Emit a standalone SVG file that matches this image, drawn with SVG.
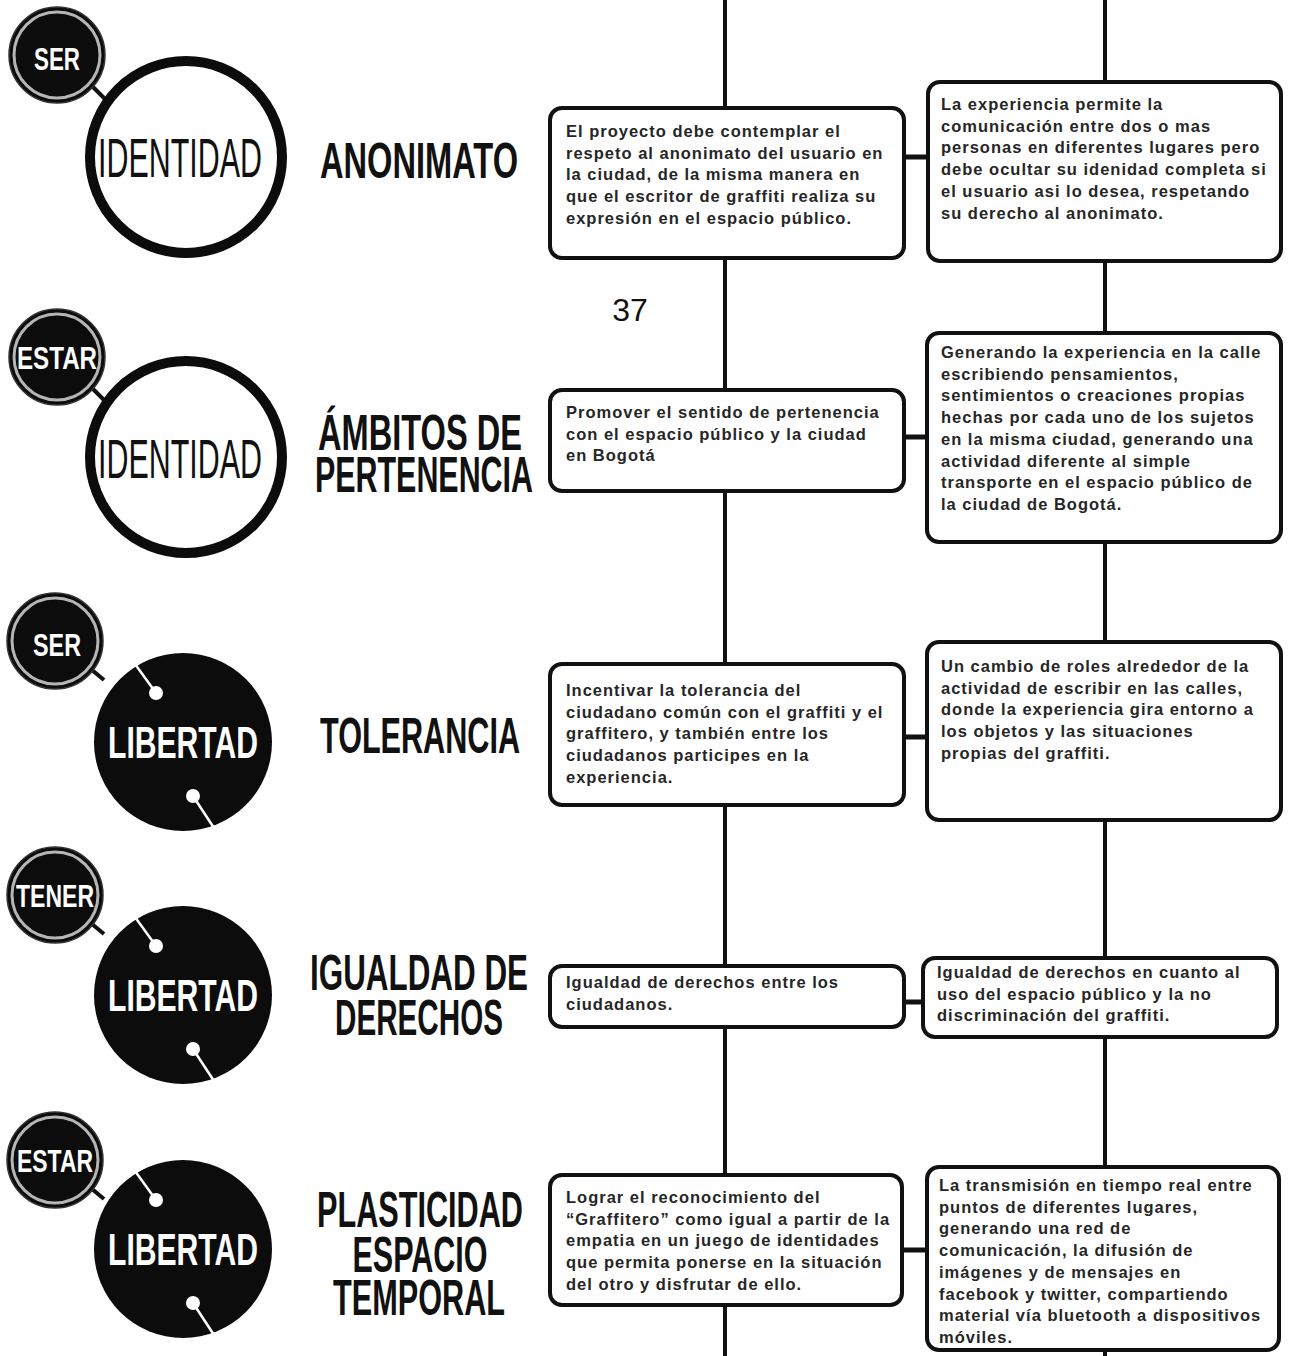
<svg xmlns="http://www.w3.org/2000/svg" width="1290" height="1356" viewBox="0 0 1290 1356">
  <style>
    .box { fill: #fff; stroke: #111; stroke-width: 4; }
    .bt { font-family: "Liberation Sans", Arial, sans-serif; font-weight: bold; font-size: 16.5px; letter-spacing: 1px; fill: #262626; }
    .lbl { font-family: "Liberation Sans", Arial, sans-serif; font-weight: bold; font-size: 50px; fill: #111; text-anchor: middle; }
    .badge { fill: #0c0c0c; stroke: #333; stroke-width: 1.5; }
    .ring { fill: none; stroke: #b5b5b5; stroke-width: 3; }
    .btxt { font-family: "Liberation Sans", Arial, sans-serif; font-weight: bold; font-size: 32px; fill: #fff; text-anchor: middle; }
    .stub { stroke: #111; stroke-width: 4; }
    .ring-big { fill: #fff; stroke: #0c0c0c; stroke-width: 10; }
    .disk { fill: #0c0c0c; }
    .ident { font-family: "Liberation Sans", Arial, sans-serif; font-size: 56px; fill: #111; text-anchor: middle; }
    .lib { font-family: "Liberation Sans", Arial, sans-serif; font-weight: bold; font-size: 44px; fill: #fff; text-anchor: middle; }
    .deco { stroke: #fff; stroke-width: 2.5; }
    .line { stroke: #111; stroke-width: 4; fill: none; }
    .hcon { stroke: #111; stroke-width: 5; }
    .page { font-family: "Liberation Sans", Arial, sans-serif; font-size: 32px; fill: #111; text-anchor: middle; }
  </style>

  <!-- white decorations inside the black LIBERTAD disks -->
  <defs>
    <g id="libdeco">
      <line class="deco" x1="-48" y1="-78" x2="-27" y2="-49"/>
      <circle cx="-27" cy="-49" r="7" fill="#fff"/>
      <line class="deco" x1="10" y1="54" x2="31" y2="86"/>
      <circle cx="10" cy="54" r="7" fill="#fff"/>
    </g>
  </defs>

  <rect width="1290" height="1356" fill="#fff"/>

  <!-- connectors: the two vertical spines and the links between box pairs -->
  <g id="connectors">
    <line class="line" x1="725" y1="0" x2="725" y2="1356"/>
    <line class="line" x1="1105" y1="0" x2="1105" y2="1356"/>
    <line class="hcon" x1="903" y1="157" x2="929" y2="157"/>
    <line class="hcon" x1="903" y1="437" x2="929" y2="437"/>
    <line class="hcon" x1="903" y1="737" x2="929" y2="737"/>
    <line class="hcon" x1="903" y1="1002" x2="924" y2="1002"/>
    <line class="hcon" x1="901" y1="1250" x2="929" y2="1250"/>
  </g>

  <!-- page number -->
  <text class="page" x="630" y="321">37</text>

  <!-- row 1 -->
  <g id="row1-concept">
    <line class="stub" x1="92" y1="86" x2="106" y2="100"/>
    <circle class="ring-big" cx="186" cy="157" r="96"/>
    <text class="ident" x="180" y="177" textLength="164" lengthAdjust="spacingAndGlyphs">IDENTIDAD</text>
    <circle class="badge" cx="57" cy="55" r="48"/>
    <circle class="ring" cx="57" cy="55" r="43"/>
    <text class="btxt" x="57" y="70" textLength="46" lengthAdjust="spacingAndGlyphs">SER</text>
  </g>
  <g id="row1-label">
    <text class="lbl" x="419" y="178" font-size="53" textLength="198" lengthAdjust="spacingAndGlyphs">ANONIMATO</text>
  </g>
  <g id="row1-left">
    <rect class="box" x="550" y="108" width="354" height="150" rx="12"/>
    <text class="bt">
      <tspan x="566" y="137">El proyecto debe contemplar el</tspan>
      <tspan x="566" y="158.7">respeto al anonimato del usuario en</tspan>
      <tspan x="566" y="180.4">la ciudad, de la misma manera en</tspan>
      <tspan x="566" y="202.1">que el escritor de graffiti realiza su</tspan>
      <tspan x="566" y="223.8">expresión en el espacio público.</tspan>
    </text>
  </g>
  <g id="row1-right">
    <rect class="box" x="928" y="82" width="353" height="179" rx="12"/>
    <text class="bt">
      <tspan x="941" y="110">La experiencia permite la</tspan>
      <tspan x="941" y="131.7">comunicación entre dos o mas</tspan>
      <tspan x="941" y="153.4">personas en diferentes lugares pero</tspan>
      <tspan x="941" y="175.1">debe ocultar su idenidad completa si</tspan>
      <tspan x="941" y="196.8">el usuario asi lo desea, respetando</tspan>
      <tspan x="941" y="218.5">su derecho al anonimato.</tspan>
    </text>
  </g>

  <!-- row 2 -->
  <g id="row2-concept">
    <line class="stub" x1="92" y1="388" x2="106" y2="402"/>
    <circle class="ring-big" cx="186" cy="457" r="96"/>
    <text class="ident" x="180" y="478" textLength="164" lengthAdjust="spacingAndGlyphs">IDENTIDAD</text>
    <circle class="badge" cx="57" cy="357" r="48"/>
    <circle class="ring" cx="57" cy="357" r="43"/>
    <text class="btxt" x="57" y="369" font-size="30" textLength="80" lengthAdjust="spacingAndGlyphs">ESTAR</text>
  </g>
  <g id="row2-label">
    <text class="lbl" x="420" y="450" font-size="49" textLength="204" lengthAdjust="spacingAndGlyphs">ÁMBITOS DE</text>
    <text class="lbl" x="424" y="492" font-size="49" textLength="218" lengthAdjust="spacingAndGlyphs">PERTENENCIA</text>
  </g>
  <g id="row2-left">
    <rect class="box" x="550" y="390" width="354" height="101" rx="12"/>
    <text class="bt">
      <tspan x="566" y="418">Promover el sentido de pertenencia</tspan>
      <tspan x="566" y="439.7">con el espacio público y la ciudad</tspan>
      <tspan x="566" y="461.4">en Bogotá</tspan>
    </text>
  </g>
  <g id="row2-right">
    <rect class="box" x="927" y="333" width="354" height="209" rx="12"/>
    <text class="bt">
      <tspan x="941" y="358">Generando la experiencia en la calle</tspan>
      <tspan x="941" y="379.7">escribiendo pensamientos,</tspan>
      <tspan x="941" y="401.4">sentimientos o creaciones propias</tspan>
      <tspan x="941" y="423.1">hechas por cada uno de los sujetos</tspan>
      <tspan x="941" y="444.8">en la misma ciudad, generando una</tspan>
      <tspan x="941" y="466.5">actividad diferente al simple</tspan>
      <tspan x="941" y="488.2">transporte en el espacio público de</tspan>
      <tspan x="941" y="509.9">la ciudad de Bogotá.</tspan>
    </text>
  </g>

  <!-- row 3 -->
  <g id="row3-concept">
    <line class="stub" x1="92" y1="670" x2="104" y2="680"/>
    <circle class="disk" cx="183" cy="742" r="89"/>
    <use href="#libdeco" x="183" y="742"/>
    <text class="lib" x="183" y="758" textLength="150" lengthAdjust="spacingAndGlyphs">LIBERTAD</text>
    <circle class="badge" cx="55" cy="641" r="48"/>
    <circle class="ring" cx="55" cy="641" r="43"/>
    <text class="btxt" x="57" y="656" textLength="48" lengthAdjust="spacingAndGlyphs">SER</text>
  </g>
  <g id="row3-label">
    <text class="lbl" x="420" y="753" textLength="200" lengthAdjust="spacingAndGlyphs">TOLERANCIA</text>
  </g>
  <g id="row3-left">
    <rect class="box" x="550" y="664" width="354" height="141" rx="12"/>
    <text class="bt">
      <tspan x="566" y="696">Incentivar la tolerancia del</tspan>
      <tspan x="566" y="717.7">ciudadano común con el graffiti y el</tspan>
      <tspan x="566" y="739.4">graffitero, y también entre los</tspan>
      <tspan x="566" y="761.1">ciudadanos participes en la</tspan>
      <tspan x="566" y="782.8">experiencia.</tspan>
    </text>
  </g>
  <g id="row3-right">
    <rect class="box" x="927" y="642" width="354" height="178" rx="12"/>
    <text class="bt">
      <tspan x="941" y="672">Un cambio de roles alrededor de la</tspan>
      <tspan x="941" y="693.7">actividad de escribir en las calles,</tspan>
      <tspan x="941" y="715.4">donde la experiencia gira entorno a</tspan>
      <tspan x="941" y="737.1">los objetos y las situaciones</tspan>
      <tspan x="941" y="758.8">propias del graffiti.</tspan>
    </text>
  </g>

  <!-- row 4 -->
  <g id="row4-concept">
    <line class="stub" x1="92" y1="924" x2="104" y2="934"/>
    <circle class="disk" cx="183" cy="995" r="89"/>
    <use href="#libdeco" x="183" y="995"/>
    <text class="lib" x="183" y="1011" textLength="150" lengthAdjust="spacingAndGlyphs">LIBERTAD</text>
    <circle class="badge" cx="55" cy="895" r="48"/>
    <circle class="ring" cx="55" cy="895" r="43"/>
    <text class="btxt" x="55" y="907" font-size="30" textLength="78" lengthAdjust="spacingAndGlyphs">TENER</text>
  </g>
  <g id="row4-label">
    <text class="lbl" x="419" y="990" font-size="48" textLength="218" lengthAdjust="spacingAndGlyphs">IGUALDAD DE</text>
    <text class="lbl" x="419" y="1035" font-size="48" textLength="168" lengthAdjust="spacingAndGlyphs">DERECHOS</text>
  </g>
  <g id="row4-left">
    <rect class="box" x="550" y="966" width="354" height="61" rx="12"/>
    <text class="bt">
      <tspan x="566" y="988">Igualdad de derechos entre los</tspan>
      <tspan x="566" y="1009.7">ciudadanos.</tspan>
    </text>
  </g>
  <g id="row4-right">
    <rect class="box" x="923" y="958" width="354" height="79" rx="12"/>
    <text class="bt">
      <tspan x="937" y="978">Igualdad de derechos en cuanto al</tspan>
      <tspan x="937" y="999.7">uso del espacio público y la no</tspan>
      <tspan x="937" y="1021.4">discriminación del graffiti.</tspan>
    </text>
  </g>

  <!-- row 5 -->
  <g id="row5-concept">
    <line class="stub" x1="92" y1="1189" x2="104" y2="1199"/>
    <circle class="disk" cx="183" cy="1249" r="89"/>
    <use href="#libdeco" x="183" y="1249"/>
    <text class="lib" x="183" y="1265" textLength="150" lengthAdjust="spacingAndGlyphs">LIBERTAD</text>
    <circle class="badge" cx="55" cy="1160" r="48"/>
    <circle class="ring" cx="55" cy="1160" r="43"/>
    <text class="btxt" x="55" y="1172" font-size="30" textLength="76" lengthAdjust="spacingAndGlyphs">ESTAR</text>
  </g>
  <g id="row5-label">
    <text class="lbl" x="420" y="1227" textLength="206" lengthAdjust="spacingAndGlyphs">PLASTICIDAD</text>
    <text class="lbl" x="420" y="1272" textLength="135" lengthAdjust="spacingAndGlyphs">ESPACIO</text>
    <text class="lbl" x="419" y="1315" textLength="172" lengthAdjust="spacingAndGlyphs">TEMPORAL</text>
  </g>
  <g id="row5-left">
    <rect class="box" x="550" y="1175" width="352" height="130" rx="12"/>
    <text class="bt">
      <tspan x="566" y="1203">Lograr el reconocimiento del</tspan>
      <tspan x="566" y="1224.7">“Graffitero” como igual a partir de la</tspan>
      <tspan x="566" y="1246.4">empatia en un juego de identidades</tspan>
      <tspan x="566" y="1268.1">que permita ponerse en la situación</tspan>
      <tspan x="566" y="1289.8">del otro y disfrutar de ello.</tspan>
    </text>
  </g>
  <g id="row5-right">
    <rect class="box" x="927" y="1167" width="352" height="183" rx="12"/>
    <text class="bt">
      <tspan x="939" y="1191">La transmisión en tiempo real entre</tspan>
      <tspan x="939" y="1212.7">puntos de diferentes lugares,</tspan>
      <tspan x="939" y="1234.4">generando una red de</tspan>
      <tspan x="939" y="1256.1">comunicación, la difusión de</tspan>
      <tspan x="939" y="1277.8">imágenes y de mensajes en</tspan>
      <tspan x="939" y="1299.5">facebook y twitter, compartiendo</tspan>
      <tspan x="939" y="1321.2">material vía bluetooth a dispositivos</tspan>
      <tspan x="939" y="1342.9">móviles.</tspan>
    </text>
  </g>
</svg>
